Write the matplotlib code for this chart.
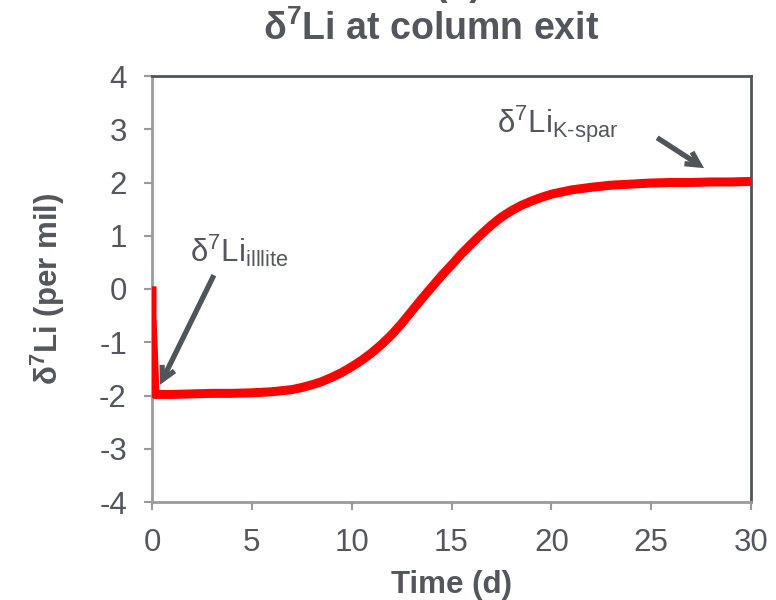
import matplotlib
matplotlib.use("Agg")
import matplotlib.pyplot as plt

# Model output: lithium isotope signature at the column exit
time_d = [0.0, 0.0, 0.15, 1, 2, 3, 4, 5, 6, 7, 7.5, 8, 8.5, 9, 9.5, 10,
          10.5, 11, 11.5, 12, 12.5, 13, 13.5, 14, 14.5, 15, 15.5, 16, 16.5,
          17, 17.5, 18, 18.5, 19, 19.5, 20, 21, 22, 23, 24, 25, 26, 27, 28,
          29, 30]
d7li = [0.05, -0.5, -1.98, -1.98, -1.97, -1.96, -1.96, -1.95, -1.93, -1.89,
        -1.85, -1.80, -1.74, -1.66, -1.57, -1.46, -1.34, -1.20, -1.04,
        -0.86, -0.65, -0.42, -0.19, 0.03, 0.25, 0.45, 0.66, 0.85, 1.03,
        1.20, 1.35, 1.47, 1.57, 1.65, 1.72, 1.78, 1.86, 1.91, 1.95, 1.97,
        1.99, 2.00, 2.00, 2.01, 2.01, 2.02]

x_ticks = [0, 5, 10, 15, 20, 25, 30]
y_ticks = [-4, -3, -2, -1, 0, 1, 2, 3, 4]

TEXT = "#53575b"
DARK = "#50555a"
LIGHT = "#9a9a9a"

plt.rcParams["font.family"] = ["Liberation Sans", "DejaVu Sans"]
plt.rcParams["mathtext.fontset"] = "custom"
plt.rcParams["mathtext.rm"] = "Liberation Sans"
plt.rcParams["mathtext.it"] = "Liberation Sans:italic"
plt.rcParams["mathtext.bf"] = "Liberation Sans:bold"

fig = plt.figure(figsize=(7.76, 6.0), dpi=100)
ax = fig.add_axes([152 / 776, 98 / 600, 599 / 776, 426 / 600])

ax.plot(time_d, d7li, color="#ff0000", lw=6.5, solid_capstyle="butt",
        solid_joinstyle="round", zorder=3)

ax.set_xlim(0, 30)
ax.set_ylim(-4, 4)
ax.set_xticks(x_ticks)
ax.set_yticks(y_ticks)
ax.set_xticklabels([str(v) for v in x_ticks])
ax.set_yticklabels([str(v) for v in y_ticks])

for side in ("left", "bottom"):
    ax.spines[side].set_color(LIGHT)
    ax.spines[side].set_linewidth(2)
for side in ("top", "right"):
    ax.spines[side].set_color(DARK)
    ax.spines[side].set_linewidth(2)

ax.tick_params(axis="both", direction="out", length=6, width=1.5,
               color=LIGHT, labelsize=22.5, labelcolor=TEXT)
ax.tick_params(axis="x", pad=13)
ax.tick_params(axis="y", pad=12)

ax.set_xlabel("Time (d)", fontsize=22.5, fontweight="bold", color=TEXT,
              labelpad=8)
ax.set_ylabel(r"δ$^{\mathbf{7}}$Li (per mil)", fontsize=22.5,
              fontweight="bold", color=TEXT)
ax.yaxis.set_label_coords(-85 / 599, 0.5)

# Panel heading (the panel letter sits above, cropped by the figure edge)
fig.text(458 / 776, 1.008, "(b)", ha="center", va="baseline",
         fontsize=27, fontweight="bold", color=TEXT)
fig.text(431 / 776, (600 - 40) / 600, r"δ$^{\mathbf{7}}$Li at column exit",
         ha="center", va="baseline", fontsize=27, fontweight="bold",
         color=TEXT)

# End-member labels
ax.text(1.9, 0.5, r"δ$^{7}$Li$_{\mathrm{illlite}}$", fontsize=22.5,
        color=TEXT, va="baseline", ha="left")
ax.text(17.3, 2.93, r"δ$^{7}$Li$_{\mathrm{K\text{-}spar}}$", fontsize=22.5,
        color=TEXT, va="baseline", ha="left")

# Arrows pointing at the two plateaus
arrow = dict(arrowstyle="->,head_length=0.95,head_width=0.5",
             color=DARK, lw=3.8, shrinkA=0, shrinkB=0,
             joinstyle="miter", capstyle="butt")
ax.annotate("", xy=(0.4, -1.8), xytext=(3.1, 0.26), arrowprops=arrow)
ax.annotate("", xy=(27.65, 2.27), xytext=(25.3, 2.84), arrowprops=arrow)

fig.savefig("out.png", dpi=100)
